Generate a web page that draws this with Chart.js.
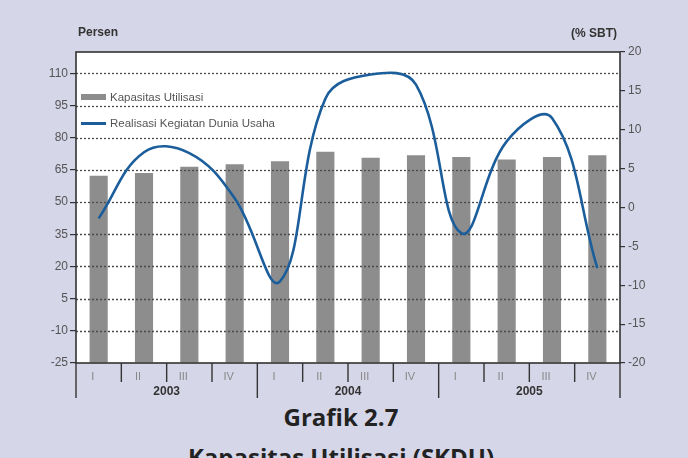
<!DOCTYPE html>
<html lang="id">
<head>
<meta charset="UTF-8">
<title>Grafik 2.7</title>
<script src="https://cdn.jsdelivr.net/npm/chart.js"></script>
<style>
    body{
        margin:0;
        background:#d6d6e9;
        font-family:"Liberation Sans", Arial, sans-serif;
    }
    #wrap{
        position:relative;
        width:688px;
        height:458px;
        overflow:hidden;
    }
    #chartBox{
        position:absolute;
        left:0; top:0;
        width:688px; height:400px;
    }
    .unit{
        position:absolute;
        font-size:12px;
        font-weight:bold;
        color:#333;
    }
    #legend{
        position:absolute;
        left:81px; top:84px;
        font-size:11.5px;
        color:#555;
    }
    #legend div{ height:26px; display:flex; align-items:center; }
    #legend span.sw{ display:inline-block; width:25px; margin-right:4px; }
    .cap{
        position:absolute;
        left:0; width:682px;
        text-align:center;
        font-family:"Open Sans", sans-serif;
        font-weight:bold;
        font-size:24px;
        line-height:normal;
        color:#222;
    }
</style>
</head>
<body>
<div id="wrap">
    <div id="chartBox"><canvas id="skdu"></canvas></div>
    <div class="unit" style="left:78px; top:25px;">Persen</div>
    <div class="unit" style="left:571px; top:26px;">(% SBT)</div>
    <div id="legend">
        <div><span class="sw" style="height:6px; background:#8d8d8d;"></span>Kapasitas Utilisasi</div>
        <div><span class="sw" style="height:3px; background:#1b5e9b;"></span>Realisasi Kegiatan Dunia Usaha</div>
    </div>
    <div class="cap" style="top:400px;">Grafik 2.7</div>
    <div class="cap" style="top:440px;">Kapasitas Utilisasi (SKDU)</div>
</div>

<script>
    // data
    const quarters = ["I","II","III","IV","I","II","III","IV","I","II","III","IV"];
    const years = ["2003","2004","2005"];
    const kapasitas = [62.3, 63.6, 66.5, 67.7, 69.1, 73.5, 70.7, 71.9, 71.1, 69.9, 71.1, 71.9];
    const realisasi = [-1.4, 7.1, 7.0, 1.2, -9.5, 14.0, 17.1, 15.8, -3.3, 8.5, 11.5, -7.8];
    const leftTicks = [-25, -10, 5, 20, 35, 50, 65, 80, 95, 110];

    const gridColor = "#4a4a4a";

    // white plot area, dotted grid between bars and line, frame, year row
    const frame = {
        id: "frame",
        beforeDraw(chart){
            const ctx = chart.ctx, a = chart.chartArea;
            ctx.save();
            ctx.fillStyle = "#fff";
            ctx.fillRect(a.left, a.top, a.right - a.left, a.bottom - a.top);
            ctx.restore();
        },
        afterDatasetDraw(chart, args){
            if(args.index !== 0) return;
            const ctx = chart.ctx, a = chart.chartArea, y = chart.scales.y;
            ctx.save();
            ctx.strokeStyle = gridColor;
            ctx.lineWidth = 1.3;
            ctx.setLineDash([2,2]);
            leftTicks.forEach(v=>{
                if(v === leftTicks[0]) return;
                const py = Math.round(y.getPixelForValue(v)) + 0.5;
                ctx.beginPath();
                ctx.moveTo(a.left, py);
                ctx.lineTo(a.right, py);
                ctx.stroke();
            });
            ctx.restore();
        },
        afterDraw(chart){
            const ctx = chart.ctx, a = chart.chartArea, x = chart.scales.x;
            const step = x.getPixelForValue(1) - x.getPixelForValue(0);
            ctx.save();
            ctx.strokeStyle = "#333";
            ctx.lineWidth = 1.6;
            ctx.strokeRect(a.left, a.top, a.right - a.left, a.bottom - a.top);

            // separators under the axis
            ctx.lineWidth = 1.4;
            for(let i = 0; i <= quarters.length; i++){
                const px = x.getPixelForValue(i) - step/2;
                const yearEdge = i % 4 === 0;
                ctx.beginPath();
                ctx.moveTo(px, a.bottom);
                ctx.lineTo(px, a.bottom + (yearEdge ? 35 : 19));
                ctx.stroke();
            }

            ctx.fillStyle = "#333";
            ctx.font = "bold 12px 'Liberation Sans', Arial, sans-serif";
            ctx.textAlign = "center";
            ctx.textBaseline = "middle";
            years.forEach((yr, k)=>{
                const c = (x.getPixelForValue(k*4) + x.getPixelForValue(k*4+3)) / 2;
                ctx.fillText(yr, c, a.bottom + 29);
            });
            ctx.restore();
        }
    };

    new Chart(document.getElementById("skdu"), {
        data: {
            labels: quarters,
            datasets: [{
                type: "bar",
                label: "Kapasitas Utilisasi",
                data: kapasitas,
                yAxisID: "y",
                base: -25,
                backgroundColor: "#8d8d8d",
                barPercentage: 0.4,
                categoryPercentage: 1,
                order: 1
            },{
                type: "line",
                label: "Realisasi Kegiatan Dunia Usaha",
                data: realisasi,
                yAxisID: "y1",
                borderColor: "#1b5e9b",
                borderWidth: 2.6,
                pointRadius: 0,
                tension: 0.4,
                fill: false,
                order: 0
            }]
        },
        options: {
            responsive: true,
            maintainAspectRatio: false,
            animation: false,
            layout: { padding: { top: 52, left: 0, right: 0, bottom: 0 } },
            plugins: { legend: { display: false }, tooltip: { enabled: false } },
            scales: {
                x: {
                    grid: { display: false, drawTicks: false },
                    border: { display: false },
                    ticks: {
                        color: "#888",
                        font: { size: 11, family: "'Liberation Sans', Arial" },
                        padding: 7,
                        labelOffset: -6,
                        maxRotation: 0
                    },
                    afterFit(s){ s.height = 37; }
                },
                y: {
                    position: "left",
                    min: -25,
                    max: 120,
                    afterBuildTicks(s){ s.ticks = leftTicks.map(v=>({value: v})); },
                    grid: { drawOnChartArea: false, drawTicks: true, tickLength: 6, color: "#333", lineWidth: 1.2 },
                    border: { display: false },
                    ticks: { color: "#555", font: { size: 12, family: "'Liberation Sans', Arial" }, padding: 2 },
                    afterFit(s){ s.width = 76; }
                },
                y1: {
                    position: "right",
                    min: -20,
                    max: 20,
                    ticks: { stepSize: 5, color: "#555", font: { size: 12, family: "'Liberation Sans', Arial" }, padding: 3 },
                    grid: { drawOnChartArea: false, drawTicks: true, tickLength: 5, color: "#333", lineWidth: 1.2 },
                    border: { display: false },
                    afterFit(s){ s.width = 68; }
                }
            }
        },
        plugins: [frame]
    });
</script>
</body>
</html>
